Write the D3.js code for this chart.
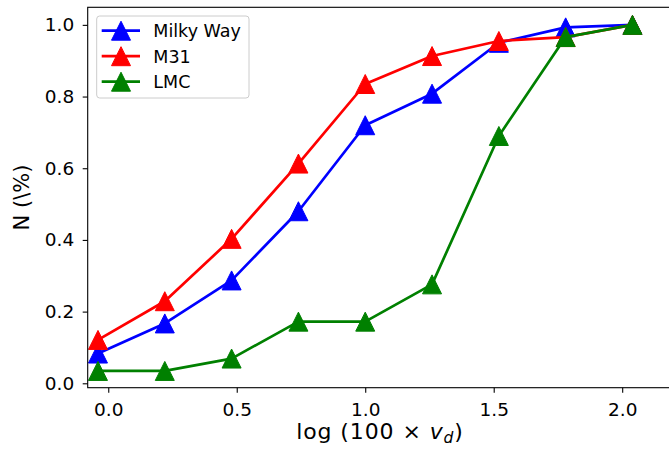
<!DOCTYPE html>
<html><head><meta charset="utf-8">
<script src="https://cdn.jsdelivr.net/npm/d3@7"></script>
<style>body{margin:0;background:#fff}svg{display:block}text{font-family:"DejaVu Sans",sans-serif;fill:#000}</style>
</head><body><svg id="c" width="669" height="457"></svg>
<script>
const xVals = [-0.04, 0.22, 0.48, 0.74, 1.0, 1.26, 1.52, 1.78, 2.04];
const milkyWay = [0.083, 0.167, 0.287, 0.480, 0.720, 0.808, 0.950, 0.993, 1.0];
const m31 = [0.121, 0.229, 0.403, 0.613, 0.835, 0.913, 0.955, 0.966, 1.0];
const lmc = [0.0345, 0.0345, 0.069, 0.172, 0.172, 0.276, 0.690, 0.966, 1.0];
const seriesNames = ["Milky Way", "M31", "LMC"];
const seriesColors = ["#0000ff", "#ff0000", "#008000"];
const xTicks = [0.0, 0.5, 1.0, 1.5, 2.0];
const yTicks = [0.0, 0.2, 0.4, 0.6, 0.8, 1.0];

const series = [milkyWay, m31, lmc];
const svg = d3.select("#c");
const L = 87.7, T = 7.3, R = 672.3, B = 387.7;
const x = d3.scaleLinear().domain([-0.08, 2.195]).range([L, R]);
const y = d3.scaleLinear().domain([-0.0123, 1.049]).range([B, T]);

const tri = "M0,-9.5L-9.5,9.5L9.5,9.5Z";

series.forEach((vals, i) => {
  const pts = vals.map((v, j) => [xVals[j], v]);
  const g = svg.append("g");
  g.append("path").datum(pts)
    .attr("d", d3.line().x(d => x(d[0])).y(d => y(d[1])))
    .attr("fill", "none").attr("stroke", seriesColors[i]).attr("stroke-width", 2.7)
    .attr("stroke-linejoin", "round");
  g.selectAll("path.m").data(pts).enter().append("path").attr("class", "m")
    .attr("d", tri).attr("transform", d => `translate(${x(d[0])},${y(d[1])})`)
    .attr("fill", seriesColors[i]).attr("stroke", seriesColors[i]).attr("stroke-width", 1);
});

const xAxis = d3.axisBottom(x).tickValues(xTicks).tickFormat(d3.format(".1f")).tickSize(5).tickPadding(10.5);
const yAxis = d3.axisLeft(y).tickValues(yTicks).tickFormat(d3.format(".1f")).tickSize(5).tickPadding(8.5);
const gx = svg.append("g").attr("transform", `translate(0,${B})`).call(xAxis);
const gy = svg.append("g").attr("transform", `translate(${L},0)`).call(yAxis);
[gx, gy].forEach(g => {
  g.select(".domain").remove();
  g.selectAll(".tick line").attr("stroke", "#000").attr("stroke-width", 1.1);
  g.selectAll(".tick text").attr("font-size", 18.5).attr("font-family", "DejaVu Sans").attr("fill", "#000");
});
svg.append("rect").attr("x", L).attr("y", T).attr("width", R - L).attr("height", B - T)
  .attr("fill", "none").attr("stroke", "#000").attr("stroke-width", 1.1);

const xl = svg.append("text").attr("x", (L + R) / 2).attr("y", 439).attr("text-anchor", "middle")
  .attr("font-size", 22).attr("letter-spacing", 0.9);
xl.append("tspan").text("log (100 \u00d7 ");
xl.append("tspan").attr("font-style", "italic").text("v");
xl.append("tspan").attr("font-style", "italic").attr("font-size", 15.5).attr("dy", 4).text("d");
xl.append("tspan").attr("dy", -4).text(")");
svg.append("text").attr("transform", `translate(29,${(T + B) / 2}) rotate(-90)`)
  .attr("text-anchor", "middle").attr("font-size", 21).text("N (\\%)");

const lg = svg.append("g");
lg.append("rect").attr("x", 96.7).attr("y", 16).attr("width", 152.3).attr("height", 82).attr("rx", 3)
  .attr("fill", "#fff").attr("fill-opacity", 0.8).attr("stroke", "#cccccc").attr("stroke-width", 1);
seriesNames.forEach((n, i) => {
  const cy = 30.7 + i * 25.5;
  lg.append("line").attr("x1", 101.7).attr("x2", 140).attr("y1", cy).attr("y2", cy)
    .attr("stroke", seriesColors[i]).attr("stroke-width", 2.7);
  lg.append("path").attr("d", tri).attr("transform", `translate(121,${cy})`)
    .attr("fill", seriesColors[i]).attr("stroke", seriesColors[i]).attr("stroke-width", 1);
  lg.append("text").attr("x", 153.3).attr("y", cy).attr("dy", "0.36em").attr("font-size", 17.5).text(n);
});
</script></body></html>
